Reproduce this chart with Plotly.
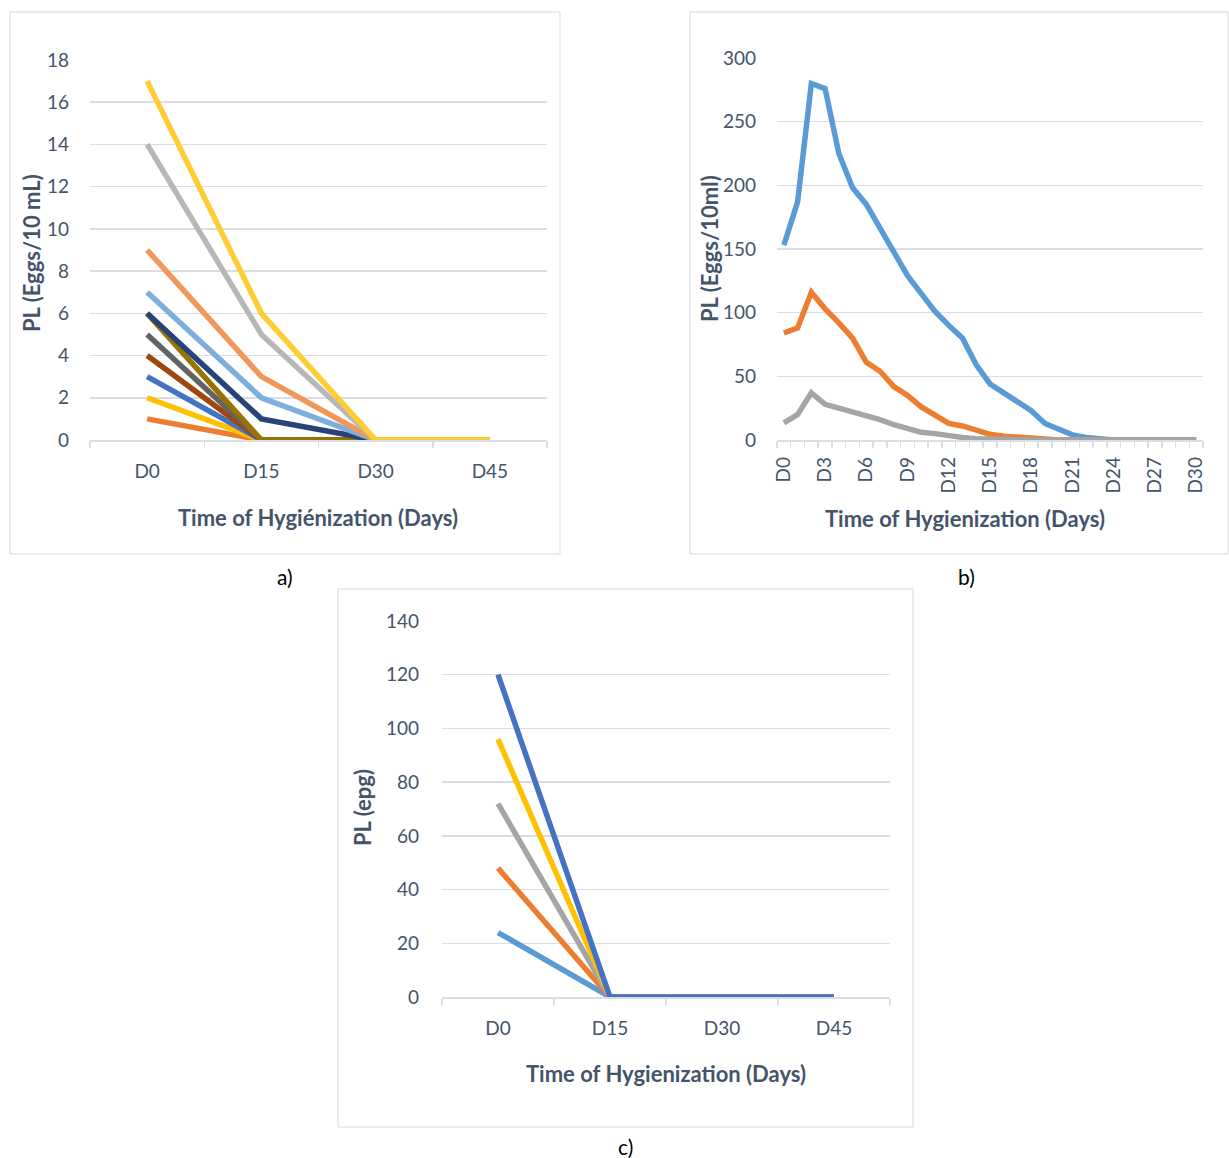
import plotly.graph_objects as go

W, H = 1229, 1158

# ---------------- data ----------------
a_categories = ["D0", "D15", "D30", "D45"]
a_s1 = [1, 0, 0, 0]
a_s2 = [2, 0, 0, 0]
a_s3 = [3, 0, 0, 0]
a_s4 = [4, 0, 0, 0]
a_s5 = [5, 0, 0, 0]
a_s6 = [6, 0, 0, 0]
a_s7 = [6, 1, 0, 0]
a_s8 = [7, 2, 0, 0]
a_s9 = [9, 3, 0, 0]
a_s10 = [14, 5, 0, 0]
a_s11 = [17, 6, 0, 0]
a_yticks = [0, 2, 4, 6, 8, 10, 12, 14, 16, 18]

b_categories = ["D%d" % d for d in range(31)]
b_s1 = [153, 187, 280, 276, 225, 198, 185, 167, 148, 129, 115, 101, 90, 80, 59, 44,
        37, 30, 23, 13, 8, 4, 2, 0.5, 0, 0, 0, 0, 0, 0, 0]
b_s2 = [84, 88, 116, 103, 92, 80, 61, 54, 42, 35, 26, 19, 13, 11, 8, 4.5,
        3, 2, 1, 0.5, 0, 0, 0, 0, 0, 0, 0, 0, 0, 0, 0]
b_s3 = [13.5, 20, 37, 28, 25, 22, 20, 16, 12, 9, 6, 5, 3, 2, 1, 0.5,
        0, 0, 0, 0, 0, 0, 0, 0, 0, 0, 0, 0, 0, 0, 0]
b_yticks = [0, 50, 100, 150, 200, 250, 300]
b_xlabels = ["D0", "D3", "D6", "D9", "D12", "D15", "D18", "D21", "D24", "D27", "D30"]

c_categories = ["D0", "D15", "D30", "D45"]
c_s1 = [24, 0, 0, 0]
c_s2 = [48, 0, 0, 0]
c_s3 = [72, 0, 0, 0]
c_s4 = [96, 0, 0, 0]
c_s5 = [120, 0, 0, 0]
c_yticks = [0, 20, 40, 60, 80, 100, 120, 140]

# ---------------- style ----------------
TXT = "#44546A"
GRID = "#DADDE3"
FONT = "Lato, 'Open Sans', sans-serif"
LW = 5.5
TICK_SIZE = 19
TITLE_SIZE = 22

a_series = [a_s1, a_s2, a_s3, a_s4, a_s5, a_s6, a_s7, a_s8, a_s9, a_s10, a_s11]
a_colors = ["#ED7D31", "#FFC000", "#4472C4", "#9E480E", "#636363", "#997300",
            "#264478", "#7CAFDD", "#F1975A", "#B7B7B7", "#FFCD33"]
b_series = [b_s1, b_s2, b_s3]
b_colors = ["#5B9BD5", "#ED7D31", "#A5A5A5"]
c_series = [c_s1, c_s2, c_s3, c_s4, c_s5]
c_colors = ["#5B9BD5", "#ED7D31", "#A5A5A5", "#FFC000", "#4472C4"]

fig = go.Figure()


def px(x):
    return x / W


def py(y):
    return 1 - y / H


def add_lines(series, colors, cats, xa, ya):
    xs = list(range(len(cats)))
    for s, c in zip(series, colors):
        fig.add_trace(go.Scatter(x=xs, y=s, mode="lines", xaxis=xa, yaxis=ya,
                                 line=dict(color=c, width=LW),
                                 showlegend=False, hoverinfo="skip"))


add_lines(a_series, a_colors, a_categories, "x", "y")
add_lines(b_series, b_colors, b_categories, "x2", "y2")
add_lines(c_series, c_colors, c_categories, "x3", "y3")


def xaxis(dom, anchor, cats, tickvals, ticktext, angle=0, standoff=14):
    return dict(domain=dom, anchor=anchor, range=[-0.5, len(cats) - 0.5],
                automargin=False, fixedrange=True,
                tickmode="array", tickvals=tickvals, ticktext=ticktext,
                ticks="", showgrid=False, zeroline=False,
                showline=True, linecolor=GRID, linewidth=1.5,
                tickangle=angle, ticklabelstandoff=standoff,
                tickfont=dict(family=FONT, size=TICK_SIZE, color=TXT),
                minor=dict(ticks="outside", tickmode="linear", tick0=-0.5, dtick=1,
                           ticklen=6, tickcolor=GRID, tickwidth=1.5, showgrid=False))


def yaxis(dom, anchor, rng, tickvals, standoff=20):
    return dict(domain=dom, anchor=anchor, range=rng, tickmode="array",
                automargin=False, fixedrange=True,
                tickvals=tickvals, showgrid=True, gridcolor=GRID, gridwidth=1.5,
                zeroline=False, showline=False, ticks="", ticklabelstandoff=standoff,
                tickfont=dict(family=FONT, size=TICK_SIZE, color=TXT))


fig.update_layout(
    xaxis=xaxis([px(90), px(547)], "y", a_categories, list(range(4)), a_categories, standoff=14),
    yaxis=yaxis([py(440), py(60)], "x", [0, 18], a_yticks),
    xaxis2=xaxis([px(777), px(1203)], "y2", b_categories,
                 [int(l[1:]) for l in b_xlabels], b_xlabels, angle=-90, standoff=8),
    yaxis2=yaxis([py(440), py(58)], "x2", [0, 300], b_yticks),
    xaxis3=xaxis([px(442), px(890)], "y3", c_categories, list(range(4)), c_categories, standoff=14),
    yaxis3=yaxis([py(997), py(621)], "x3", [0, 140], c_yticks, standoff=22),
)

# panel borders
for (x0, y0, x1, y1) in [(10, 12, 560, 554), (690, 12, 1228, 554), (338, 589, 913, 1127)]:
    fig.add_shape(type="rect", xref="paper", yref="paper",
                  x0=px(x0), x1=px(x1), y0=py(y1), y1=py(y0),
                  line=dict(color="#D9D9D9", width=1), fillcolor="rgba(0,0,0,0)")

# axis titles
titles = [
    ("Time of Hygiénization (Days)", 318, 517, 0),
    ("PL (Eggs/10 mL)", 31, 253, -90),
    ("Time of Hygienization (Days)", 965, 518, 0),
    ("PL (Eggs/10ml)", 710, 249, -90),
    ("Time of Hygienization (Days)", 666, 1073, 0),
    ("PL (epg)", 362, 808, -90),
]
for t, x, y, ang in titles:
    fig.add_annotation(text="<b>%s</b>" % t, x=px(x), y=py(y), xref="paper", yref="paper",
                       showarrow=False, textangle=ang, xanchor="center", yanchor="middle",
                       font=dict(family=FONT, size=TITLE_SIZE, color=TXT))

# panel captions
for t, x, y in [("a)", 285, 576), ("b)", 966, 576), ("c)", 625, 1146)]:
    fig.add_annotation(text=t, x=px(x), y=py(y), xref="paper", yref="paper",
                       showarrow=False, xanchor="center", yanchor="middle",
                       font=dict(family=FONT, size=21, color="#000000"))

fig.update_layout(width=W, height=H, margin=dict(l=0, r=0, t=0, b=0, autoexpand=False),
                  paper_bgcolor="white", plot_bgcolor="white", hovermode=False)

fig.write_html("out.html", config={"displayModeBar": False, "staticPlot": True},
               post_script="document.body.style.margin='0';document.body.style.overflow='hidden';")
